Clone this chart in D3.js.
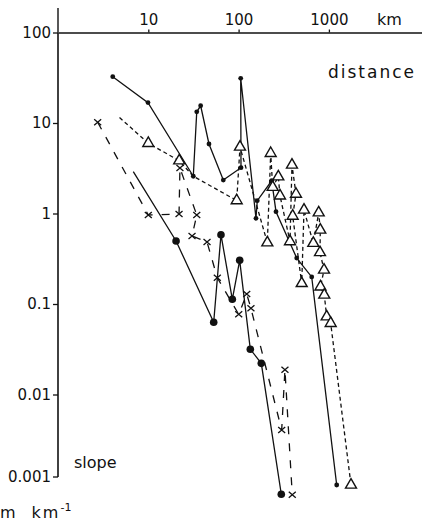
<!DOCTYPE html>
<html>
<head>
<meta charset="utf-8">
<script src="https://cdn.jsdelivr.net/npm/d3@7"></script>
<style>
  body { margin: 0; background: #fff; }
  svg text { font-family: "DejaVu Sans", sans-serif; fill: #111; }
</style>
</head>
<body>
<svg id="chart" width="422" height="523"></svg>
<script>
// distance along river (km) against channel slope (m/km)

// solid line, small dots
var dotDist  = [4.04, 9.92, 31.5, 34.4, 38.0, 47.0, 67.7, 106.3, 105.5, 155.8, 161, 232.6, 259.5, 440, 645, 1220];
var dotSlope = [32.5, 16.8, 2.58, 13.3, 15.5, 5.86, 2.34, 3.21, 31.2, 0.885, 1.385, 2.30, 1.047, 0.322, 0.199, 0.001];

// solid line, big dots (first point is only the start of the line)
var bigDist  = [6.82, 20.3, 53.0, 63.8, 85.2, 102.8, 134.8, 178.4, 297];
var bigSlope = [2.90, 0.497, 0.0628, 0.583, 0.1127, 0.304, 0.0316, 0.0221, 0.00079];
var bigPlain = [0];

// long dashes, crosses
var crossDist  = [2.75, 10.0, 21.9, 22.4, 34.4, 30.5, 44.7, 58.1, 100.3, 123, 137, 300, 326, 393];
var crossSlope = [10.2, 0.963, 0.987, 3.18, 0.963, 0.564, 0.484, 0.195, 0.0769, 0.129, 0.0896, 0.00405, 0.0188, 0.00078];

// short dashes, open triangles
var triDist  = [4.80, 10.0, 22.0, 31.5, 95.3, 103.6, 208, 226.7, 238.5, 275.3, 287.4, 371, 390, 432, 397,
                500, 530, 672, 771, 803, 797, 883, 807, 889, 945, 1047, 1757];
var triSlope = [11.5, 5.97, 3.83, 2.58, 1.39, 5.43, 0.476, 4.62, 1.95, 2.55, 1.57, 0.49, 3.44, 1.64, 0.938,
                0.169, 1.093, 0.469, 1.02, 0.657, 0.371, 0.2375, 0.155, 0.126, 0.0724, 0.0612, 0.001];
var triPlain = [0, 3];

var xTicks = [10, 100, 1000];
var yTicks = [100, 10, 1, 0.1, 0.01];

var svg = d3.select("#chart");

var x = d3.scaleLog().domain([1, Math.pow(10, 364 / 90.3)]).range([58, 422]);
var y = d3.scaleLog().domain([0.001, 100]).range([485, 32.5]);

// axes
var xAxis = d3.axisTop(x).tickValues(xTicks).tickSize(3).tickSizeOuter(0).tickPadding(5)
  .tickFormat(d3.format("d"));
var gx = svg.append("g").attr("transform", "translate(0," + y(100) + ")").call(xAxis);
gx.select(".domain").attr("stroke", "#111").attr("stroke-width", 1.6);
gx.selectAll(".tick line").attr("stroke", "#111").attr("stroke-width", 1.3);
gx.selectAll("text").attr("font-size", 15).attr("font-family", "DejaVu Sans").attr("fill", "#111");

svg.append("line")
  .attr("x1", x(1)).attr("x2", x(1))
  .attr("y1", 8).attr("y2", y(100))
  .attr("stroke", "#111").attr("stroke-width", 1.4);

var yAxis = d3.axisLeft(y).tickValues(yTicks).tickSize(5).tickSizeOuter(0).tickPadding(2)
  .tickFormat(function(d) { return d >= 1 ? d3.format("d")(d) : String(d); });
var gy = svg.append("g").attr("transform", "translate(" + x(1) + ",0)").call(yAxis);
gy.select(".domain").remove();
gy.selectAll(".tick line").attr("stroke", "#111").attr("stroke-width", 1.3);
gy.selectAll("text").attr("font-size", 15).attr("font-family", "DejaVu Sans").attr("fill", "#111");

var yEnd = 477;
svg.append("line")
  .attr("x1", x(1)).attr("x2", x(1))
  .attr("y1", y(100)).attr("y2", yEnd)
  .attr("stroke", "#111").attr("stroke-width", 1.6);
svg.append("line")
  .attr("x1", x(1) - 5).attr("x2", x(1))
  .attr("y1", yEnd).attr("y2", yEnd)
  .attr("stroke", "#111").attr("stroke-width", 1.3);
svg.append("text")
  .attr("x", x(1) - 7).attr("y", yEnd).attr("dy", "0.32em")
  .attr("text-anchor", "end").attr("font-size", 15)
  .text("0.001");

// labels
svg.append("text").attr("x", 377).attr("y", 25).attr("font-size", 16).text("km");
svg.append("text").attr("x", 328).attr("y", 78).attr("font-size", 17)
  .attr("letter-spacing", 2).text("distance");
svg.append("text").attr("x", 74).attr("y", 468).attr("font-size", 16).text("slope");
var unit = svg.append("text").attr("x", 0).attr("y", 518).attr("font-size", 16);
unit.append("tspan").text("m");
unit.append("tspan").attr("dx", 16).attr("letter-spacing", 2).text("km");
unit.append("tspan").attr("dy", -7).attr("font-size", 11).text("-1");

// series
var line = d3.line()
  .x(function(d) { return x(d[0]); })
  .y(function(d) { return y(d[1]); });

var drawLine = function(dist, slope, dash) {
  var pts = d3.zip(dist, slope);
  svg.append("path")
    .datum(pts)
    .attr("d", line)
    .attr("fill", "none")
    .attr("stroke", "#111")
    .attr("stroke-width", 1.3)
    .attr("stroke-dasharray", dash);
  return pts;
};

var crossPts = drawLine(crossDist, crossSlope, "8,9");
var triPts = drawLine(triDist, triSlope, "4,3");
var dotPts = drawLine(dotDist, dotSlope, null);
var bigPts = drawLine(bigDist, bigSlope, null);

svg.selectAll(".dot")
  .data(dotPts)
  .enter().append("circle")
  .attr("class", "dot")
  .attr("cx", function(d) { return x(d[0]); })
  .attr("cy", function(d) { return y(d[1]); })
  .attr("r", 2.4)
  .attr("fill", "#111");

svg.selectAll(".big")
  .data(bigPts.filter(function(d, i) { return bigPlain.indexOf(i) < 0; }))
  .enter().append("circle")
  .attr("class", "big")
  .attr("cx", function(d) { return x(d[0]); })
  .attr("cy", function(d) { return y(d[1]); })
  .attr("r", 3.8)
  .attr("fill", "#111");

svg.selectAll(".cross")
  .data(crossPts)
  .enter().append("path")
  .attr("class", "cross")
  .attr("transform", function(d) { return "translate(" + x(d[0]) + "," + y(d[1]) + ")"; })
  .attr("d", "M-3.5,-3L3.5,3M-3.5,3L3.5,-3")
  .attr("stroke", "#111")
  .attr("stroke-width", 1.3)
  .attr("fill", "none");

svg.selectAll(".tri")
  .data(triPts.filter(function(d, i) { return triPlain.indexOf(i) < 0; }))
  .enter().append("path")
  .attr("class", "tri")
  .attr("transform", function(d) { return "translate(" + x(d[0]) + "," + y(d[1]) + ")"; })
  .attr("d", d3.symbol(d3.symbolTriangle, 52))
  .attr("fill", "#fff")
  .attr("stroke", "#111")
  .attr("stroke-width", 1.4);
</script>
</body>
</html>
